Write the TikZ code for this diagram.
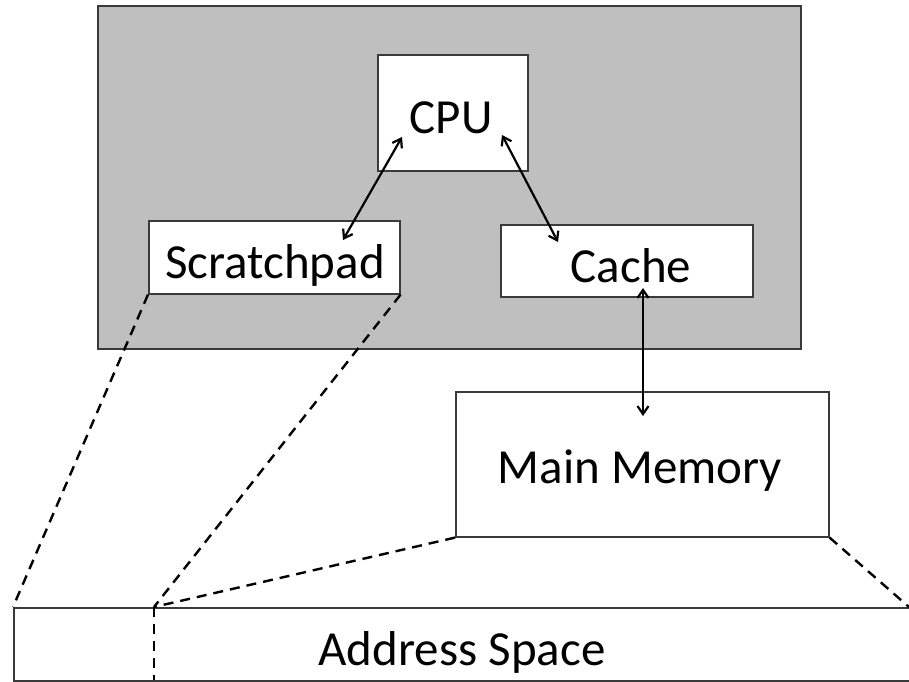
\documentclass[tikz,border=0pt]{standalone}
\usepackage{fontspec}
\setmainfont{Carlito}
\usetikzlibrary{arrows.meta}
\definecolor{chipgray}{HTML}{BFBFBF}
\definecolor{edgegray}{HTML}{3A3A3A}
\begin{document}
\begin{tikzpicture}[x=1pt,y=-1pt,
  box/.style={draw=edgegray, line width=1.6pt, fill=white, inner sep=0pt, anchor=north west},
  txt/.style={font=\fontsize{49}{58}\selectfont, inner sep=0pt, anchor=base},
  link/.style={line width=2.2pt, {Straight Barb[length=8pt,width=11pt]}-{Straight Barb[length=8pt,width=11pt]}},
  mapline/.style={line width=2.4pt, dash pattern=on 10pt off 7pt}
]
\useasboundingbox (0,0) rectangle (909,681);
% chip
\node[box, fill=chipgray, minimum width=703pt, minimum height=343pt] (chip) at (97,5) {};
% boxes
\node[box, minimum width=150pt, minimum height=116pt] (cpu) at (377,54) {};
\node[box, minimum width=251pt, minimum height=73pt] (scratch) at (148,220) {};
\node[box, minimum width=252pt, minimum height=72pt] (cache) at (500,224) {};
\node[box, minimum width=373pt, minimum height=145pt] (mem) at (455,391) {};
\node[box, minimum width=900pt, minimum height=73pt] (addr) at (13,607) {};
% texts
\node[txt] (cputxt) at (451,133) {CPU};
\node[txt] (scratchtxt) at (275,278) {Scratchpad};
\node[txt] (cachetxt) at (631,282) {Cache};
\node[txt] (memtxt) at (640,483) {Main Memory};
\node[txt] (addrtxt) at (462,665) {Address Space};
% arrow ends
\coordinate (c1) at (402,137);
\coordinate (s1) at (343,240);
\coordinate (c2) at (502,135);
\coordinate (k1) at (558,242);
\coordinate (k2) at (643,288);
\coordinate (m1) at (643,416);
\draw[link] (c1) -- (s1);
\draw[link] (c2) -- (k1);
\draw[link] (k2) -- (m1);
% dashed mapping lines
\coordinate (split) at (154,607);
\coordinate (splitb) at (154,680);
\coordinate (rightend) at (909,607);
\draw[mapline] (scratch.south west) -- (addr.north west);
\draw[mapline] (scratch.south east) -- (split);
\draw[mapline] (mem.south west) -- (split);
\draw[mapline] (mem.south east) -- (rightend);
\draw[mapline] (split) -- (splitb);
\end{tikzpicture}
\end{document}
